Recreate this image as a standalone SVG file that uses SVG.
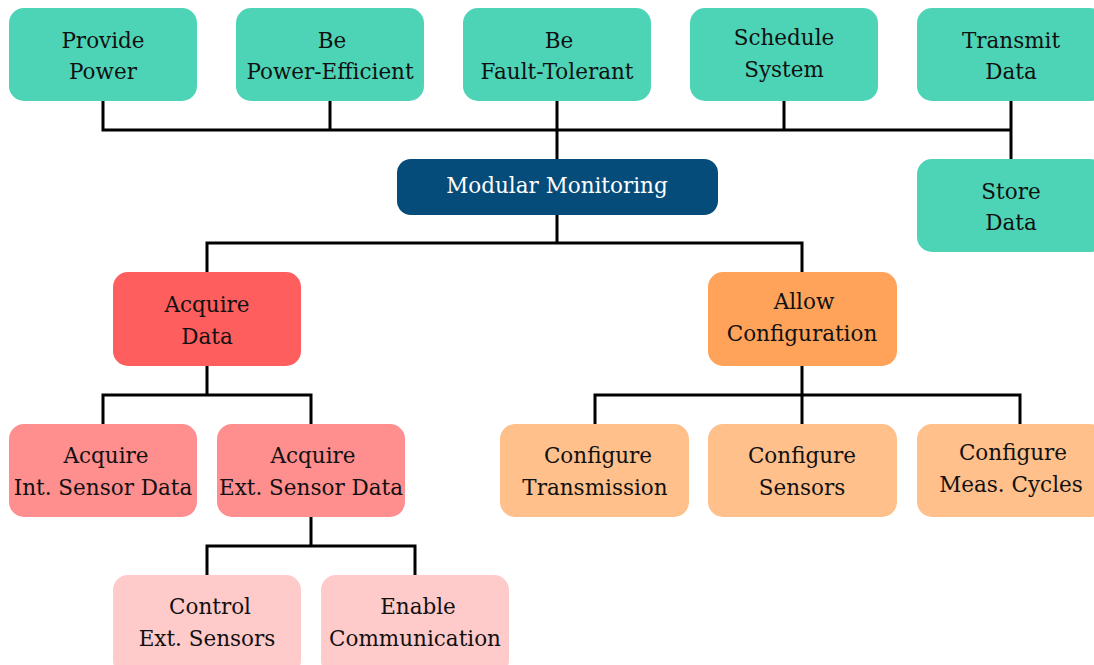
<svg xmlns="http://www.w3.org/2000/svg" width="1094" height="665" viewBox="0 0 1094 665">
  <style>
    .box { stroke: none; }
    .teal { fill: #4dd4b6; }
    .root { fill: #054c7a; }
    .red { fill: #ff5e5e; }
    .orange { fill: #ffa35a; }
    .lred { fill: #ff8e8e; }
    .lorange { fill: #ffc08c; }
    .pink { fill: #ffcaca; }
    text { font-family: "DejaVu Serif", "Liberation Serif", serif; font-size: 21.5px; fill: #111; text-anchor: middle; }
    .light { fill: #ffffff; }
    .wire { fill: none; stroke: #000; stroke-width: 3; stroke-linejoin: miter; stroke-linecap: butt; }
  </style>

  <!-- connectors -->
  <g id="connectors" class="wire">
    <!-- top goals to the bus -->
    <path d="M103 101V130H1011M330 101V130M557 101V159M784 101V130M1011 101V159"/>
    <!-- root to level one -->
    <path d="M557 215V243M207 272V243H802V272"/>
    <!-- Acquire Data children -->
    <path d="M207 366V395M103 424V395H311V424"/>
    <!-- Acquire Ext. Sensor Data children -->
    <path d="M311 517V546M207 575V546H415V575"/>
    <!-- Allow Configuration children -->
    <path d="M802 366V424M595 424V395H1020V424"/>
  </g>

  <g id="provide-power">
    <rect class="box teal" x="9" y="8" width="188" height="93" rx="15"/>
    <text x="103" y="48">Provide</text>
    <text x="103" y="79">Power</text>
  </g>
  <g id="be-power-efficient">
    <rect class="box teal" x="236" y="8" width="188" height="93" rx="15"/>
    <text x="332" y="48">Be</text>
    <text x="330" y="79">Power-Efficient</text>
  </g>
  <g id="be-fault-tolerant">
    <rect class="box teal" x="463" y="8" width="188" height="93" rx="15"/>
    <text x="559" y="48">Be</text>
    <text x="557" y="79">Fault-Tolerant</text>
  </g>
  <g id="schedule-system">
    <rect class="box teal" x="690" y="8" width="188" height="93" rx="15"/>
    <text x="784" y="45">Schedule</text>
    <text x="784" y="77">System</text>
  </g>
  <g id="transmit-data">
    <rect class="box teal" x="917" y="8" width="188" height="93" rx="15"/>
    <text x="1011" y="48">Transmit</text>
    <text x="1011" y="79">Data</text>
  </g>
  <g id="store-data">
    <rect class="box teal" x="917" y="159" width="188" height="93" rx="15"/>
    <text x="1011" y="199">Store</text>
    <text x="1011" y="230">Data</text>
  </g>

  <g id="modular-monitoring">
    <rect class="box root" x="397" y="159" width="321" height="56" rx="14"/>
    <text class="light" x="557" y="193">Modular Monitoring</text>
  </g>

  <g id="acquire-data">
    <rect class="box red" x="113" y="272" width="188" height="94" rx="15"/>
    <text x="207" y="312">Acquire</text>
    <text x="207" y="344">Data</text>
  </g>
  <g id="allow-configuration">
    <rect class="box orange" x="708" y="272" width="189" height="94" rx="15"/>
    <text x="804" y="309">Allow</text>
    <text x="802" y="341">Configuration</text>
  </g>

  <g id="acquire-int-sensor-data">
    <rect class="box lred" x="9" y="424" width="188" height="93" rx="15"/>
    <text x="106" y="463">Acquire</text>
    <text x="103" y="495">Int. Sensor Data</text>
  </g>
  <g id="acquire-ext-sensor-data">
    <rect class="box lred" x="217" y="424" width="188" height="93" rx="15"/>
    <text x="313" y="463">Acquire</text>
    <text x="311" y="495">Ext. Sensor Data</text>
  </g>

  <g id="configure-transmission">
    <rect class="box lorange" x="500" y="424" width="189" height="93" rx="15"/>
    <text x="598" y="463">Configure</text>
    <text x="595" y="495">Transmission</text>
  </g>
  <g id="configure-sensors">
    <rect class="box lorange" x="708" y="424" width="189" height="93" rx="15"/>
    <text x="802" y="463">Configure</text>
    <text x="802" y="495">Sensors</text>
  </g>
  <g id="configure-meas-cycles">
    <rect class="box lorange" x="917" y="424" width="188" height="93" rx="15"/>
    <text x="1013" y="460">Configure</text>
    <text x="1011" y="492">Meas. Cycles</text>
  </g>

  <g id="control-ext-sensors">
    <rect class="box pink" x="113" y="575" width="188" height="100" rx="15"/>
    <text x="210" y="614">Control</text>
    <text x="207" y="646">Ext. Sensors</text>
  </g>
  <g id="enable-communication">
    <rect class="box pink" x="321" y="575" width="188" height="100" rx="15"/>
    <text x="418" y="614">Enable</text>
    <text x="415" y="646">Communication</text>
  </g>
</svg>
